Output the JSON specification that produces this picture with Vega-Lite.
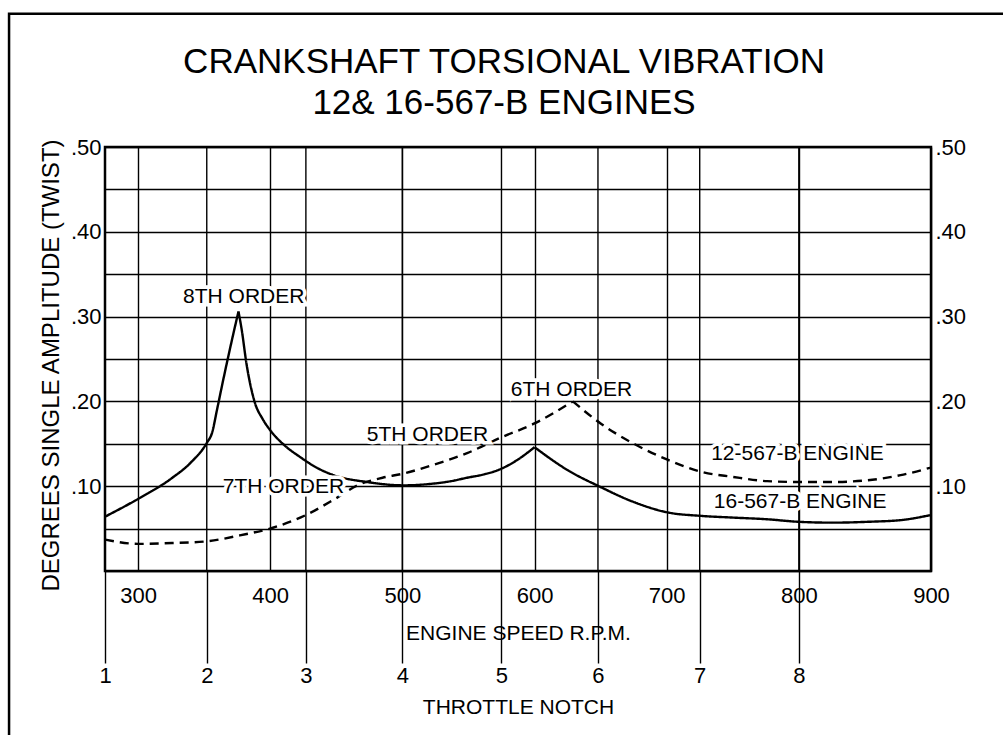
{
  "$schema": "https://vega.github.io/schema/vega-lite/v6.json",
  "width": 826,
  "height": 424,
  "autosize": "none",
  "padding": {"left": 105, "top": 147, "right": 72, "bottom": 164},
  "background": "white",
  "config": {
    "view": {"stroke": "black", "strokeWidth": 2.5},
    "font": "Liberation Sans",
    "axis": {"labelFont": "Liberation Sans", "titleFont": "Liberation Sans", "labelColor": "black", "titleColor": "black", "labelFontSize": 22, "labelFontWeight": "normal", "titleFontSize": 21, "titleFontWeight": "normal", "gridColor": "black", "gridOpacity": 1, "gridWidth": 1.4, "tickColor": "black", "domain": false}
  },
  "title": {
    "text": ["CRANKSHAFT TORSIONAL VIBRATION", "12& 16-567-B ENGINES"],
    "font": "Liberation Sans",
    "fontSize": 35,
    "fontWeight": "normal",
    "lineHeight": 41,
    "color": "black",
    "anchor": "middle",
    "dx": -14,
    "offset": -108
  },
  "datasets": {
    "curves": [
      {"engine": "16-567-B", "seg": "a", "rpm": 275, "amp": 0.064},
      {"engine": "16-567-B", "seg": "a", "rpm": 300, "amp": 0.085},
      {"engine": "16-567-B", "seg": "a", "rpm": 326, "amp": 0.110},
      {"engine": "16-567-B", "seg": "a", "rpm": 340, "amp": 0.128},
      {"engine": "16-567-B", "seg": "a", "rpm": 352, "amp": 0.151},
      {"engine": "16-567-B", "seg": "a", "rpm": 356, "amp": 0.163},
      {"engine": "16-567-B", "seg": "a", "rpm": 360, "amp": 0.192},
      {"engine": "16-567-B", "seg": "a", "rpm": 364, "amp": 0.222},
      {"engine": "16-567-B", "seg": "a", "rpm": 368, "amp": 0.251},
      {"engine": "16-567-B", "seg": "a", "rpm": 372, "amp": 0.279},
      {"engine": "16-567-B", "seg": "a", "rpm": 376, "amp": 0.306},
      {"engine": "16-567-B", "seg": "b", "rpm": 376, "amp": 0.306},
      {"engine": "16-567-B", "seg": "b", "rpm": 378.5, "amp": 0.284},
      {"engine": "16-567-B", "seg": "b", "rpm": 382, "amp": 0.245},
      {"engine": "16-567-B", "seg": "b", "rpm": 388.5, "amp": 0.198},
      {"engine": "16-567-B", "seg": "b", "rpm": 394, "amp": 0.180},
      {"engine": "16-567-B", "seg": "b", "rpm": 400, "amp": 0.166},
      {"engine": "16-567-B", "seg": "b", "rpm": 411, "amp": 0.148},
      {"engine": "16-567-B", "seg": "b", "rpm": 423, "amp": 0.134},
      {"engine": "16-567-B", "seg": "b", "rpm": 435, "amp": 0.122},
      {"engine": "16-567-B", "seg": "b", "rpm": 448, "amp": 0.113},
      {"engine": "16-567-B", "seg": "b", "rpm": 473, "amp": 0.105},
      {"engine": "16-567-B", "seg": "b", "rpm": 501, "amp": 0.101},
      {"engine": "16-567-B", "seg": "b", "rpm": 523, "amp": 0.103},
      {"engine": "16-567-B", "seg": "b", "rpm": 537, "amp": 0.106},
      {"engine": "16-567-B", "seg": "b", "rpm": 549, "amp": 0.110},
      {"engine": "16-567-B", "seg": "b", "rpm": 562, "amp": 0.114},
      {"engine": "16-567-B", "seg": "b", "rpm": 574, "amp": 0.120},
      {"engine": "16-567-B", "seg": "b", "rpm": 587, "amp": 0.131},
      {"engine": "16-567-B", "seg": "b", "rpm": 600, "amp": 0.146},
      {"engine": "16-567-B", "seg": "c", "rpm": 600, "amp": 0.146},
      {"engine": "16-567-B", "seg": "c", "rpm": 625, "amp": 0.119},
      {"engine": "16-567-B", "seg": "c", "rpm": 650, "amp": 0.099},
      {"engine": "16-567-B", "seg": "c", "rpm": 674, "amp": 0.082},
      {"engine": "16-567-B", "seg": "c", "rpm": 701, "amp": 0.069},
      {"engine": "16-567-B", "seg": "c", "rpm": 726, "amp": 0.065},
      {"engine": "16-567-B", "seg": "c", "rpm": 750, "amp": 0.063},
      {"engine": "16-567-B", "seg": "c", "rpm": 776, "amp": 0.061},
      {"engine": "16-567-B", "seg": "c", "rpm": 800, "amp": 0.058},
      {"engine": "16-567-B", "seg": "c", "rpm": 826, "amp": 0.057},
      {"engine": "16-567-B", "seg": "c", "rpm": 852, "amp": 0.058},
      {"engine": "16-567-B", "seg": "c", "rpm": 877, "amp": 0.060},
      {"engine": "16-567-B", "seg": "c", "rpm": 900, "amp": 0.066},
      {"engine": "12-567-B", "seg": "d", "rpm": 275, "amp": 0.037},
      {"engine": "12-567-B", "seg": "d", "rpm": 300, "amp": 0.032},
      {"engine": "12-567-B", "seg": "d", "rpm": 326, "amp": 0.033},
      {"engine": "12-567-B", "seg": "d", "rpm": 352, "amp": 0.035},
      {"engine": "12-567-B", "seg": "d", "rpm": 377, "amp": 0.042},
      {"engine": "12-567-B", "seg": "d", "rpm": 402, "amp": 0.051},
      {"engine": "12-567-B", "seg": "d", "rpm": 427, "amp": 0.066},
      {"engine": "12-567-B", "seg": "d", "rpm": 448, "amp": 0.084},
      {"engine": "12-567-B", "seg": "d", "rpm": 466, "amp": 0.101},
      {"engine": "12-567-B", "seg": "d", "rpm": 485, "amp": 0.110},
      {"engine": "12-567-B", "seg": "d", "rpm": 501, "amp": 0.115},
      {"engine": "12-567-B", "seg": "d", "rpm": 523, "amp": 0.125},
      {"engine": "12-567-B", "seg": "d", "rpm": 549, "amp": 0.139},
      {"engine": "12-567-B", "seg": "d", "rpm": 574, "amp": 0.157},
      {"engine": "12-567-B", "seg": "d", "rpm": 600, "amp": 0.174},
      {"engine": "12-567-B", "seg": "d", "rpm": 629, "amp": 0.200},
      {"engine": "12-567-B", "seg": "e", "rpm": 629, "amp": 0.200},
      {"engine": "12-567-B", "seg": "e", "rpm": 650, "amp": 0.174},
      {"engine": "12-567-B", "seg": "e", "rpm": 674, "amp": 0.151},
      {"engine": "12-567-B", "seg": "e", "rpm": 701, "amp": 0.131},
      {"engine": "12-567-B", "seg": "e", "rpm": 726, "amp": 0.117},
      {"engine": "12-567-B", "seg": "e", "rpm": 750, "amp": 0.111},
      {"engine": "12-567-B", "seg": "e", "rpm": 776, "amp": 0.106},
      {"engine": "12-567-B", "seg": "e", "rpm": 800, "amp": 0.105},
      {"engine": "12-567-B", "seg": "e", "rpm": 826, "amp": 0.105},
      {"engine": "12-567-B", "seg": "e", "rpm": 852, "amp": 0.107},
      {"engine": "12-567-B", "seg": "e", "rpm": 877, "amp": 0.113},
      {"engine": "12-567-B", "seg": "e", "rpm": 900, "amp": 0.122}
    ],
    "notches": [
      {"notch": "1", "rpm": 275},
      {"notch": "2", "rpm": 352},
      {"notch": "3", "rpm": 427},
      {"notch": "4", "rpm": 500},
      {"notch": "5", "rpm": 575},
      {"notch": "6", "rpm": 648},
      {"notch": "7", "rpm": 725},
      {"notch": "8", "rpm": 800}
    ],
    "notes": [
      {"label": "8TH ORDER", "rpm": 380, "amp": 0.323},
      {"label": "5TH ORDER", "rpm": 519, "amp": 0.160},
      {"label": "7TH ORDER", "rpm": 410, "amp": 0.099},
      {"label": "6TH ORDER", "rpm": 628, "amp": 0.213},
      {"label": "12-567-B ENGINE", "rpm": 799, "amp": 0.138},
      {"label": "16-567-B ENGINE", "rpm": 801, "amp": 0.081}
    ]
  },
  "layer": [
    {
      "data": {"values": [{}]},
      "mark": {"type": "rect", "fill": null, "fillOpacity": 0, "stroke": "black", "strokeWidth": 2.5, "clip": false},
      "encoding": {
        "x": {"datum": 202.4, "type": "quantitative", "axis": null},
        "x2": {"datum": 965},
        "y": {"datum": 0.657, "type": "quantitative", "axis": null},
        "y2": {"datum": -0.35}
      }
    },
    {
      "data": {"name": "curves"},
      "mark": {"type": "line", "interpolate": "monotone", "color": "black", "strokeWidth": 2.4, "clip": true},
      "encoding": {
        "x": {"field": "rpm", "type": "quantitative", "scale": {"domain": [275, 900], "nice": false, "zero": false},
          "axis": {"orient": "bottom", "values": [300, 400, 500, 600, 700, 800, 900], "format": "d", "grid": true, "ticks": false, "labelPadding": 14, "labelFlush": false,
            "title": "ENGINE SPEED R.P.M.", "titleY": 62, "titleBaseline": "middle", "titleFontSize": 21}},
        "y": {"field": "amp", "type": "quantitative", "scale": {"domain": [0, 0.5], "nice": false},
          "axis": {"orient": "left", "values": [0, 0.05, 0.1, 0.15, 0.2, 0.25, 0.3, 0.35, 0.4, 0.45, 0.5], "grid": true, "ticks": false, "labelPadding": 4,
            "labelExpr": "round(datum.value*100) % 10 == 0 && datum.value > 0 ? replace(format(datum.value, '.2f'), '0.', '.') : ''",
            "title": "DEGREES SINGLE AMPLITUDE (TWIST)", "titleX": -54, "titleY": 218, "titleBaseline": "middle", "titleFontSize": 24}},
        "detail": {"field": "seg", "type": "nominal"},
        "strokeDash": {"field": "engine", "type": "nominal", "scale": {"domain": ["16-567-B", "12-567-B"], "range": [[1, 0], [9, 6]]}, "legend": null}
      }
    },
    {
      "data": {"name": "notches"},
      "mark": {"type": "rule", "color": "black", "strokeWidth": 1.4},
      "encoding": {
        "x": {"field": "rpm", "type": "quantitative",
          "axis": {"orient": "bottom", "values": [275, 352, 427, 500, 575, 648, 725, 800], "grid": false, "ticks": true, "tickSize": 92, "tickWidth": 1.4, "labelPadding": 2, "labelFlush": false,
            "labelExpr": "datum.value == 275 ? '1' : datum.value == 352 ? '2' : datum.value == 427 ? '3' : datum.value == 500 ? '4' : datum.value == 575 ? '5' : datum.value == 648 ? '6' : datum.value == 725 ? '7' : '8'",
            "title": "THROTTLE NOTCH", "titleY": 136, "titleBaseline": "middle", "titleFontSize": 21}}
      }
    },
    {
      "data": {"name": "curves"},
      "mark": {"type": "point", "opacity": 0},
      "encoding": {
        "x": {"field": "rpm", "type": "quantitative", "axis": null},
        "y": {"field": "amp", "type": "quantitative",
          "axis": {"orient": "right", "values": [0.1, 0.2, 0.3, 0.4, 0.5], "grid": false, "ticks": false, "labelPadding": 4,
            "labelExpr": "replace(format(datum.value, '.2f'), '0.', '.')", "title": null}}
      }
    },
    {
      "data": {"name": "notes"},
      "mark": {"type": "text", "font": "Liberation Sans", "fontSize": 21, "color": "white", "stroke": "white", "strokeWidth": 7, "align": "center", "baseline": "middle"},
      "encoding": {
        "x": {"field": "rpm", "type": "quantitative", "axis": null},
        "y": {"field": "amp", "type": "quantitative", "axis": null},
        "text": {"field": "label"}
      }
    },
    {
      "data": {"name": "notes"},
      "mark": {"type": "text", "font": "Liberation Sans", "fontSize": 21, "color": "black", "align": "center", "baseline": "middle"},
      "encoding": {
        "x": {"field": "rpm", "type": "quantitative", "axis": null},
        "y": {"field": "amp", "type": "quantitative", "axis": null},
        "text": {"field": "label"}
      }
    }
  ],
  "resolve": {"axis": {"x": "independent", "y": "independent"}}
}
